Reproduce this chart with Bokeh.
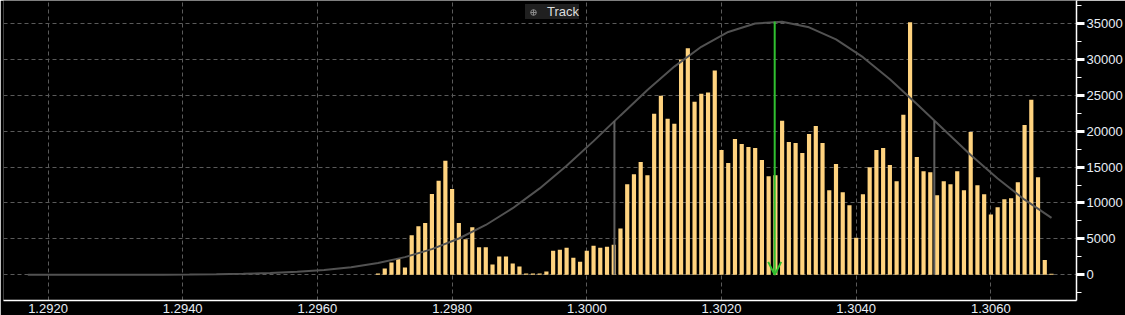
from bokeh.plotting import figure
from bokeh.models import (Range1d, FixedTicker, SingleIntervalTicker, Arrow, OpenHead,
                          Legend, LegendItem, PrintfTickFormatter, BasicTickFormatter)
from bokeh.embed import file_html
from bokeh.resources import INLINE

# ---- data ----
price_start = 1.2969
price_step = 0.0001
volume = [200, 890, 1730, 2340, 1030, 5510, 6780, 7200, 11260, 13080,
          15890, 11960, 7200, 4950, 6640, 3830, 3830, 1450, 2570, 2570,
          1590, 1170, 190, 190, 190, 450, 3360, 3500, 3780, 2380,
          1820, 3360, 4060, 3780, 3920, 4200, 6440, 12610, 14010, 15690,
          13870, 22420, 24940, 21720, 21020, 29980, 31520, 24100, 25220, 25360,
          28440, 17370, 15550, 18910, 18210, 17790, 17650, 15970, 13730, 13870,
          21430, 18490, 18350, 16950, 19610, 20730, 18350, 11770, 15410, 11490,
          9670, 5180, 11210, 14990, 17370, 17650, 15270, 13030, 22280, 35170,
          16390, 14430, 14290, 11070, 13030, 12610, 14430, 11770, 19890, 12470,
          11210, 8410, 9390, 10510, 10650, 12890, 20870, 24380, 13590, 2050,
          150]
price = [round(price_start + i * price_step, 4) for i in range(len(volume))]

curve_x = [1.2917, 1.2921, 1.2925, 1.2929, 1.2933, 1.2937, 1.2941, 1.2945, 1.2949, 1.2953,
           1.2957, 1.2961, 1.2965, 1.2969, 1.2973, 1.2977, 1.2981, 1.2985, 1.2989, 1.2993,
           1.2997, 1.3001, 1.3005, 1.3009, 1.3013, 1.3017, 1.3021, 1.3025, 1.3029, 1.3033,
           1.3037, 1.3041, 1.3045, 1.3049, 1.3053, 1.3057, 1.3061, 1.3065, 1.3069]
curve_y = [1, 2, 3, 6, 12, 24, 45, 82, 145, 249,
           417, 678, 1072, 1648, 2464, 3583, 5056, 6940, 9275, 12030,
           15175, 18610, 22190, 25720, 28980, 31740, 33800, 34990, 35210, 34450,
           32770, 30290, 27230, 23790, 20220, 16690, 13400, 10460, 7935]

mean_price = 1.30279
mean_peak = 35250
sigma_x = [1.30041, 1.30516]
sigma_y = [21400, 21400]

x_ticks = [1.2920, 1.2940, 1.2960, 1.2980, 1.3000, 1.3020, 1.3040, 1.3060]
legend_label = "Track"

# ---- figure ----
FONT = "Liberation Sans"
TXT = "#e8eef6"

p = figure(width=1125, height=315, output_backend="svg", toolbar_location=None,
           x_range=Range1d(1.291339, 1.307271), y_range=Range1d(-3570, 38180),
           y_axis_location="right",
           background_fill_color="black", border_fill_color="black",
           outline_line_color=None,
           min_border_left=3, min_border_top=0, min_border_right=0, min_border_bottom=0)

# grids
for g in (p.xgrid, p.ygrid):
    g.grid_line_color = "#5a5a5a"
    g.grid_line_dash = "4 3"
    g.grid_line_width = 1

# x axis
xa = p.xaxis[0]
xa.ticker = FixedTicker(ticks=x_ticks)
xa.formatter = PrintfTickFormatter(format="%.4f")
xa.axis_line_color = "white"
xa.axis_line_width = 1.5
xa.major_tick_out = 0
xa.major_tick_in = 0
xa.minor_tick_out = 0
xa.minor_tick_in = 0
xa.major_label_standoff = 3
xa.major_label_text_font = FONT
xa.major_label_text_font_size = "13px"
xa.major_label_text_color = TXT

# y axis (right)
ya = p.yaxis[0]
ya.ticker = SingleIntervalTicker(interval=5000, num_minor_ticks=2)
ya.formatter = BasicTickFormatter(use_scientific=False)
ya.axis_line_color = "white"
ya.axis_line_width = 1.5
ya.major_tick_line_color = "white"
ya.major_tick_line_width = 3
ya.major_tick_out = 8
ya.major_tick_in = 0
ya.minor_tick_line_color = "white"
ya.minor_tick_line_width = 1
ya.minor_tick_out = 5
ya.minor_tick_in = 0
ya.major_label_standoff = 2
ya.major_label_text_font = FONT
ya.major_label_text_font_size = "13px"
ya.major_label_text_color = TXT

# bars
p.vbar(x=price, top=volume, bottom=0, width=0.000062,
       fill_color="#ffd37f", line_color=None)

# fitted curve
p.line(curve_x, curve_y, line_color="#525252", line_width=2)

# sigma lines
p.segment(x0=sigma_x, y0=[0, 0], x1=sigma_x, y1=sigma_y,
          line_color="#5f5f5f", line_width=2)

# mean arrow
p.add_layout(Arrow(end=OpenHead(size=13, line_color="#30c030", line_width=2),
                   x_start=mean_price, y_start=mean_peak, x_end=mean_price, y_end=0,
                   line_color="#30c030", line_width=2))

# legend with crosshair icon (renderers hold a single off-screen NaN point)
nan = float("nan")
r1 = p.scatter(x=[nan], y=[nan], marker="circle", size=7, fill_color=None,
               line_color="#8a8a8a", line_width=1)
r2 = p.scatter(x=[nan], y=[nan], marker="cross", size=14, line_color="#8a8a8a", line_width=1)
leg = Legend(items=[LegendItem(label=legend_label, renderers=[r1, r2])],
             location=(522, 281), orientation="horizontal",
             padding=2, margin=0, spacing=0, label_standoff=6,
             glyph_width=16, glyph_height=14, label_height=14,
             label_text_font=FONT, label_text_font_size="13px",
             label_text_color="#dddddd",
             background_fill_color="#202020", background_fill_alpha=1,
             border_line_color=None)
p.add_layout(leg, "center")

html = file_html(p, INLINE)
html = html.replace("<body>", '<body style="margin:0;background:black;">', 1)
open("out.html", "w").write(html)
